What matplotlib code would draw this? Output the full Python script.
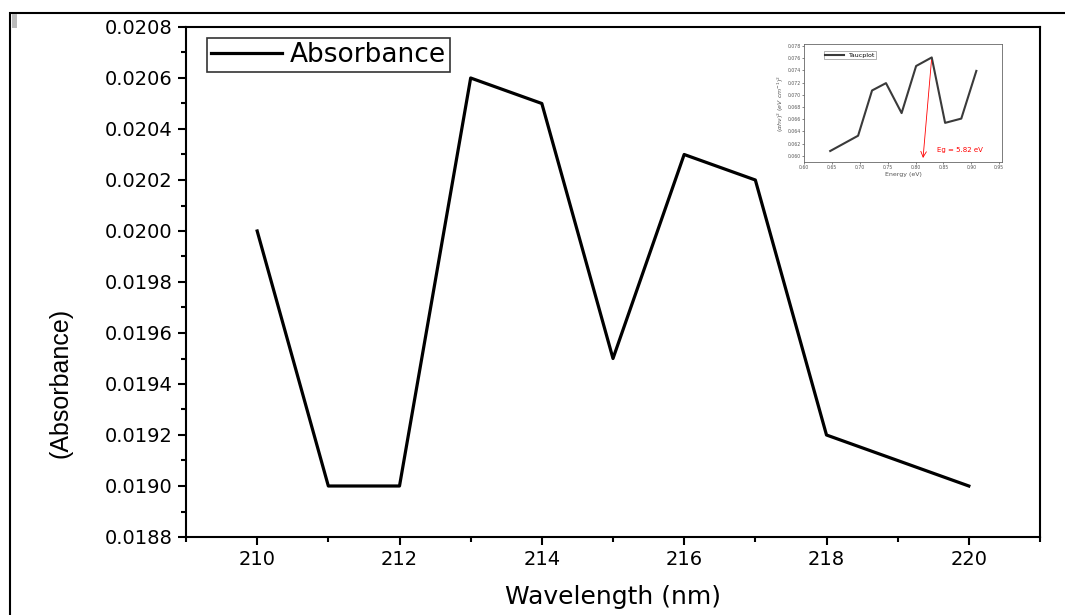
import numpy as np
import matplotlib
matplotlib.use("Agg")
import matplotlib.pyplot as plt
import matplotlib.ticker as ticker
from matplotlib.patches import Rectangle

plt.rcParams['font.family'] = ['DejaVu Sans']

# main data
wavelength = [210, 211, 212, 213, 214, 215, 216, 217, 218, 219, 220]
absorbance = [0.0200, 0.0190, 0.0190, 0.0206, 0.0205, 0.0195, 0.0203, 0.0202, 0.0192, 0.0191, 0.0190]

# inset (Tauc plot) data
energy = [0.647, 0.697, 0.722, 0.747, 0.775, 0.801, 0.829, 0.853, 0.882, 0.909]
tauc = [0.0608, 0.0633, 0.0707, 0.0719, 0.0670, 0.0747, 0.0761, 0.0654, 0.0661, 0.0739]
eg_x = 0.813
eg_label = "Eg = 5.82 eV"

W, H = 1065, 615
fig = plt.figure(figsize=(W / 100, H / 100), dpi=100)

# outer frame round the figure
fig.patches.append(Rectangle((10 / W, -0.05), 1.2, 1 - 13 / H + 0.05, transform=fig.transFigure,
                             fill=False, edgecolor='black', linewidth=1.5))
fig.patches.append(Rectangle((12 / W, 1 - 28 / H), 5 / W, 14 / H, transform=fig.transFigure,
                             facecolor='#bbbbbb', edgecolor='none'))

ax = fig.add_axes([186 / W, 1 - 537 / H, (1040 - 186) / W, (537 - 27) / H])
ax.plot(wavelength, absorbance, color='black', linewidth=2.3, label='Absorbance')
ax.set_xlim(209, 221)
ax.set_ylim(0.0188, 0.0208)
ax.xaxis.set_major_locator(ticker.MultipleLocator(2))
ax.xaxis.set_minor_locator(ticker.MultipleLocator(1))
ax.yaxis.set_major_locator(ticker.MultipleLocator(0.0002))
ax.yaxis.set_minor_locator(ticker.MultipleLocator(0.0001))
ax.yaxis.set_major_formatter(ticker.FormatStrFormatter('%.4f'))
ax.tick_params(which='major', direction='out', length=6, width=1.5, labelsize=14)
ax.tick_params(which='minor', direction='out', length=3.5, width=1.5)
ax.tick_params(top=False, right=False)
for s in ax.spines.values():
    s.set_linewidth(1.5)
ax.set_xlabel('Wavelength (nm)', fontsize=18)
ax.xaxis.set_label_coords((613 - 186) / 854, -(597 - 537) / 510)
ax.xaxis.label.set_va('center')
ax.set_ylabel('(Absorbance)', fontsize=18, family=['Liberation Sans'])
ax.yaxis.set_label_coords(-(186 - 61) / 854, (537 - 383) / 510)
ax.yaxis.label.set_va('center')
leg = ax.legend(loc='upper left', fontsize=19, frameon=True, fancybox=False,
                edgecolor='black', handlelength=2.7, handletextpad=0.3, borderpad=0.15,
                borderaxespad=0, bbox_to_anchor=(21 / 854, 1 - 11 / 510))
leg.get_frame().set_linewidth(1.2)

# inset
ins = fig.add_axes([804 / W, 1 - 162 / H, (1002 - 804) / W, (162 - 44) / H])
ins.plot(energy, tauc, color='#3a3a3a', linewidth=1.5, label='Taucplot')
ins.annotate('', xy=(eg_x, 0.0592), xytext=(energy[6], tauc[6]),
             arrowprops=dict(arrowstyle='->', color='red', lw=0.6))
ins.text(0.838, 0.0606, eg_label, color='red', fontsize=5)
ins.set_xlim(0.60, 0.955)
ins.set_ylim(0.059, 0.0783)
ins.xaxis.set_major_locator(ticker.MultipleLocator(0.05))
ins.yaxis.set_major_locator(ticker.MultipleLocator(0.002))
ins.xaxis.set_major_formatter(ticker.FormatStrFormatter('%.2f'))
ins.yaxis.set_major_formatter(ticker.FormatStrFormatter('%.3f'))
ins.tick_params(labelsize=3.3, length=1.5, width=0.5, pad=1, colors='#555555')
for s in ins.spines.values():
    s.set_linewidth(0.6)
    s.set_color('#666666')
ins.set_xlabel('Energy (eV)', fontsize=4.5, labelpad=1, color='#555555')
ins.set_ylabel(r'$(\alpha h\nu)^2\ (eV\ cm^{-1})^2$', fontsize=4.5, labelpad=1, color='#555555')
il = ins.legend(loc='upper left', fontsize=4.5, frameon=True, fancybox=False,
                edgecolor='#777777', handlelength=3, borderpad=0.2, borderaxespad=0,
                bbox_to_anchor=(0.1, 0.94))
il.get_frame().set_linewidth(0.5)

fig.savefig('out.png', dpi=100)
